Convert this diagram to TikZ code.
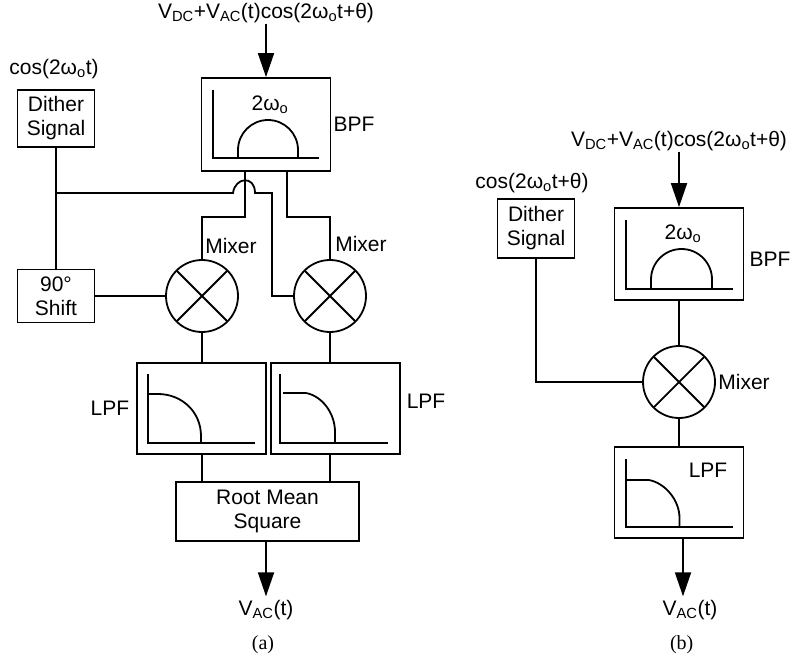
\documentclass[tikz,border=0pt]{standalone}
\usepackage{fontspec}
\setmainfont{Liberation Sans}
\newfontfamily\capfont{Liberation Serif}
\usetikzlibrary{arrows.meta,calc}

\newcommand{\wo}{ω\textsubscript{o}}
\newcommand{\vdc}{V\textsubscript{DC}}
\newcommand{\vac}{V\textsubscript{AC}}

\begin{document}
\begin{tikzpicture}[x=1pt, y=-1pt, line width=1.8pt,
  font=\fontsize{21}{24}\selectfont,
  b/.style={rectangle, draw, align=center, inner sep=0pt, minimum width=#1},
  b/.default=77pt,
  filt/.style={rectangle, draw, inner sep=0pt, minimum width=129pt, minimum height=91pt},
  mix/.style={circle, draw, inner sep=0pt, minimum size=72pt,
    path picture={\draw (path picture bounding box.north west) -- (path picture bounding box.south east)
      (path picture bounding box.north east) -- (path picture bounding box.south west);}},
  lbl/.style={inner sep=0pt, align=center},
  arr/.style={-{Triangle[length=24pt,width=16pt]}, shorten >=3pt},
  captxt/.style={inner sep=0pt, font=\capfont\fontsize{20}{22}\selectfont}]
  \useasboundingbox (0,0) rectangle (791,662);

  % (a)
  \node[lbl] (vina) at (266,13) {\vdc+\vac(t)cos(2\wo t+θ)};
  \node[lbl] (cosa) at (54,69) {cos(2\wo t)};
  \node[b, minimum height=57pt] (ditha) at (56,118.5) {Dither\\Signal};
  \node[b, minimum height=53pt] (shifta) at (56,296) {90°\\Shift};
  \node[filt, minimum height=93pt] (bpfa) at (266,124.5) {};
  \node[lbl] at (354,124) {BPF};
  \node[mix] (mixa) at (202,296) {};
  \node[mix] (mixb) at (330,296) {};
  \node[lbl] at (231,246) {Mixer};
  \node[lbl] at (361,244) {Mixer};
  \node[filt] (lpfa) at (201.5,408.5) {};
  \node[filt] (lpfb) at (335.5,408.5) {};
  \node[lbl] at (110,408) {LPF};
  \node[lbl] at (426,401) {LPF};
  \node[b=183pt, minimum height=59pt] (rms) at (267.5,511.5) {Root Mean\\Square};
  \node[lbl] (vouta) at (266,610) {\vac(t)};
  \node[captxt] at (263,645) {(a)};

  \coordinate (tapa) at ([xshift=-21pt]bpfa.south);
  \coordinate (tapb) at ([xshift=21pt]bpfa.south);
  \coordinate (junc) at (56,193);
  \draw[arr, shorten >=0pt] (vina.south) -- (bpfa.north);
  \draw (ditha) -- (shifta);
  \draw (junc) -- (233,193) .. controls (235,177) and (255,175) .. (255,193)
     -- (272,193) |- (mixb.west);
  \draw (tapa) -- (245,217) -| (mixa.north);
  \draw (tapb) -- (287,217) -| (mixb.north);
  \draw (shifta) -- (mixa);
  \draw (mixa) -- (mixa |- lpfa.north);
  \draw (mixb) -- (mixb |- lpfb.north);
  \draw (mixa |- lpfa.south) -- (mixa |- rms.north);
  \draw (mixb |- lpfb.south) -- (mixb |- rms.north);
  \draw[arr] (rms.south -| vouta) -- (vouta.north);

  % filter curves of (a)
  \draw (213,90) |- (319,158);
  \draw (238,158) -- (238,150) arc[start angle=180, end angle=0, radius=30pt] -- (298,158);
  \node[lbl] at (270,105) {2\wo};
  \draw (148,374) |- (255,443);
  \draw (148,394) -- (158,394) .. controls (182,394) and (201,412) .. (201,436) -- (201,443);
  \draw (280,374) |- (388,443);
  \draw (283,393) -- (306,393) .. controls (322,396) and (335,413) .. (335,432) -- (335,443);

  % (b)
  \node[lbl] (vinb) at (679,141) {\vdc+\vac(t)cos(2\wo t+θ)};
  \node[lbl] (cosb) at (532,183) {cos(2\wo t+θ)};
  \node[b, minimum height=59pt] (dithb) at (536,228.5) {Dither\\Signal};
  \node[filt, minimum height=92pt] (bpfb) at (679,254) {};
  \node[lbl] at (770,259) {BPF};
  \node[mix] (mixc) at (679,382) {};
  \node[lbl] at (744,382) {Mixer};
  \node[filt] (lpfc) at (679,492.5) {};
  \node[lbl] at (708,470) {LPF};
  \node[lbl] (voutb) at (690,610) {\vac(t)};
  \node[captxt] at (681.7,645) {(b)};

  \coordinate (outb) at ([xshift=4pt]lpfc.south);
  \draw[arr, shorten >=0pt] (vinb.south) -- (bpfb.north);
  \draw (bpfb) -- (mixc);
  \draw (dithb.south) |- (mixc.west);
  \draw (mixc) -- (lpfc);
  \draw[arr] (outb) -- (outb |- voutb.north);

  % filter curves of (b)
  \draw (626,220) |- (733,289);
  \draw (651,289) -- (651,279.5) arc[start angle=180, end angle=0, radius=30.5pt] -- (712,289);
  \node[lbl] at (683,234) {2\wo};
  \draw (626,459) |- (733,527);
  \draw (626,480) -- (649,480) .. controls (665,483) and (679.5,500) .. (679.5,518) -- (679.5,527);
\end{tikzpicture}
\end{document}
